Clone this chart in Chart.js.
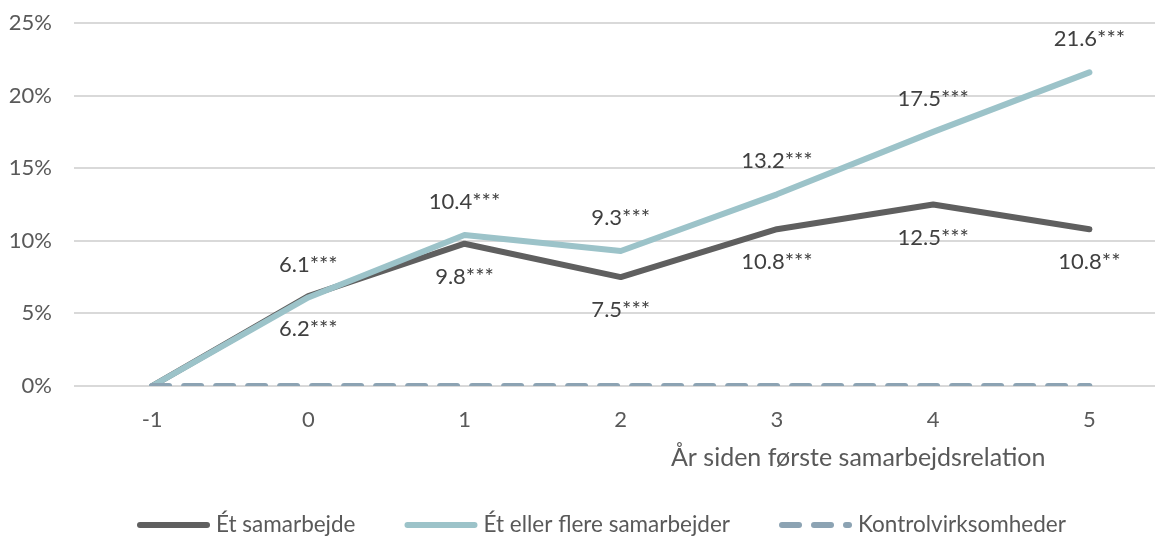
<!DOCTYPE html>
<html><head><meta charset="utf-8">
<script src="https://cdn.jsdelivr.net/npm/chart.js@4.4.1/dist/chart.umd.min.js"></script>
<style>html,body{margin:0;padding:0;background:#fff}#wrap{width:1155px;height:538px;position:relative}</style>
</head><body><div id="wrap"><canvas id="c" width="1155" height="538"></canvas></div>
<script>
const categories = [-1, 0, 1, 2, 3, 4, 5];
const seriesNames = ['Ét samarbejde', 'Ét eller flere samarbejder', 'Kontrolvirksomheder'];
const etSamarbejde = [0, 6.2, 9.8, 7.5, 10.8, 12.5, 10.8];
const etEllerFlere = [0, 6.1, 10.4, 9.3, 13.2, 17.5, 21.6];
const kontrol = [0, 0, 0, 0, 0, 0, 0];
const etSamarbejdeLabels = ['', '6.2***', '9.8***', '7.5***', '10.8***', '12.5***', '10.8**'];
const etEllerFlereLabels = ['', '6.1***', '10.4***', '9.3***', '13.2***', '17.5***', '21.6***'];
const yTicks = [0, 5, 10, 15, 20, 25];
const xTitle = 'År siden første samarbejdsrelation';

const FONT = 'Lato, "Open Sans", sans-serif';
const FS = 22;
const toXY = arr => arr.map((v, i) => ({x: categories[i], y: v}));

const labelPlugin = {
  id: 'pointLabels',
  afterDatasetsDraw(chart) {
    const ctx = chart.ctx;
    ctx.save();
    ctx.font = FS + 'px ' + FONT;
    ctx.fillStyle = '#404040';
    ctx.textAlign = 'center';
    ctx.textBaseline = 'middle';
    [[0, etSamarbejdeLabels, 33], [1, etEllerFlereLabels, -33]].forEach(([di, labels, off]) => {
      const meta = chart.getDatasetMeta(di);
      meta.data.forEach((pt, i) => {
        if (labels[i]) ctx.fillText(labels[i], pt.x, pt.y + off);
      });
    });
    ctx.restore();
  }
};

const extrasPlugin = {
  id: 'extras',
  afterDraw(chart) {
    const ctx = chart.ctx;
    const xs = chart.scales.x;
    ctx.save();
    ctx.fillStyle = '#595959';
    ctx.textAlign = 'center';
    ctx.textBaseline = 'middle';
    ctx.font = '25px ' + FONT;
    ctx.fillText(xTitle, xs.getPixelForValue(3.52), 458);
    // legend
    ctx.font = '22.5px ' + FONT;
    let x = 137;
    const y = 525;
    chart.data.datasets.forEach(ds => {
      ctx.save();
      ctx.strokeStyle = ds.borderColor;
      ctx.lineWidth = ds.borderWidth;
      ctx.lineCap = 'round';
      ctx.setLineDash(ds.borderDash || []);
      ctx.beginPath();
      ctx.moveTo(x + 3, y);
      ctx.lineTo(x + 70, y);
      ctx.stroke();
      ctx.restore();
      ctx.textAlign = 'left';
      ctx.fillText(ds.label, x + 79, y);
      x = x + 79 + ctx.measureText(ds.label).width + 49;
    });
    ctx.restore();
  }
};

new Chart(document.getElementById('c'), {
  type: 'line',
  data: {
    datasets: [
      {label: seriesNames[0], data: toXY(etSamarbejde), borderColor: '#5f5f5f', borderWidth: 6, pointRadius: 0, order: 3, borderCapStyle: 'round', borderJoinStyle: 'round'},
      {label: seriesNames[1], data: toXY(etEllerFlere), borderColor: '#9cc3c9', borderWidth: 6, pointRadius: 0, order: 2, borderCapStyle: 'round', borderJoinStyle: 'round'},
      {label: seriesNames[2], data: toXY(kontrol), borderColor: '#8ca3b3', borderWidth: 6, borderDash: [17, 15], pointRadius: 0, order: 1, borderCapStyle: 'round'}
    ]
  },
  options: {
    responsive: false,
    animation: false,
    devicePixelRatio: 1,
    layout: {padding: {top: 23, right: 0, bottom: 0, left: 0}},
    plugins: {legend: {display: false}, tooltip: {enabled: false}},
    scales: {
      x: {
        type: 'linear', min: -1.5, max: 5.42,
        afterBuildTicks: axis => { axis.ticks = categories.map(v => ({value: v})); },
        afterFit: s => { s.height = 152; },
        grid: {display: false},
        border: {display: false},
        ticks: {color: '#595959', font: {family: FONT, size: FS}, padding: 13, autoSkip: false, maxRotation: 0, callback: v => String(v)}
      },
      y: {
        min: 0, max: 25,
        afterBuildTicks: axis => { axis.ticks = yTicks.map(v => ({value: v})); },
        afterFit: s => { s.width = 74; s.paddingTop = 0; s.paddingBottom = 0; },
        grid: {color: '#d9d9d9', lineWidth: 2, drawTicks: false},
        border: {display: false},
        ticks: {color: '#595959', font: {family: FONT, size: FS}, padding: 22, callback: v => v + '%'}
      }
    }
  },
  plugins: [labelPlugin, extrasPlugin]
});
</script></body></html>
